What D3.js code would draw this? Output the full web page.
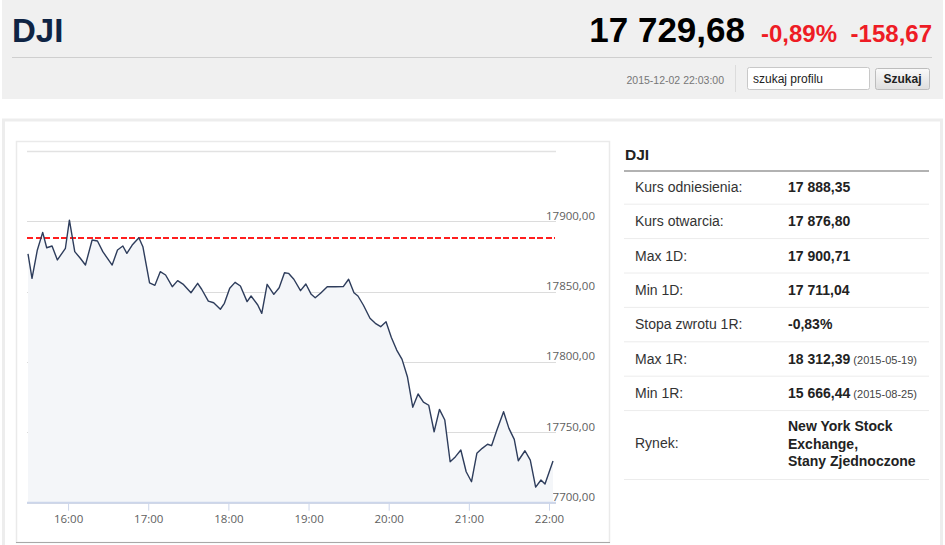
<!DOCTYPE html>
<html>
<head>
<meta charset="utf-8">
<script src="https://cdn.jsdelivr.net/npm/d3@7"></script>
<style>
  html, body { margin: 0; padding: 0; background: #fff; }
  svg { display: block; font-family: Arial, "Liberation Sans", sans-serif; }
</style>
</head>
<body>
<div id="page"></div>
<script>
// quote header
const symbol = 'DJI';
const lastPrice = '17 729,68';
const changePct = '-0,89%';
const changeAbs = '-158,67';
const quoteTime = '2015-12-02 22:03:00';

// intraday series (time, index value)
const times = [
    '15:30', '15:33', '15:37', '15:41', '15:44', '15:48', '15:52', '15:58', '16:01', '16:05',
    '16:09', '16:13', '16:18', '16:22', '16:26', '16:33', '16:37', '16:41', '16:44', '16:48',
    '16:53', '16:56', '17:01', '17:05', '17:09', '17:13', '17:18', '17:22', '17:26', '17:32',
    '17:37', '17:40', '17:45', '17:49', '17:54', '17:57', '18:01', '18:05', '18:09', '18:14',
    '18:17', '18:22', '18:25', '18:29', '18:34', '18:38', '18:42', '18:45', '18:49', '18:54',
    '18:58', '19:02', '19:05', '19:09', '19:14', '19:20', '19:26', '19:30', '19:34', '19:37',
    '19:41', '19:46', '19:50', '19:54', '19:58', '20:02', '20:06', '20:10', '20:14', '20:18',
    '20:22', '20:26', '20:30', '20:34', '20:38', '20:42', '20:46', '20:50', '20:54', '20:58',
    '21:02', '21:06', '21:10', '21:14', '21:17', '21:21', '21:26', '21:30', '21:34', '21:37',
    '21:42', '21:46', '21:50', '21:54', '21:57', '22:03'
];
const values = [
    17876.80, 17859.4, 17879.5, 17892.0, 17881.1, 17882.3, 17872.4, 17880.7, 17900.71, 17878.3,
    17873.8, 17868.8, 17886.6, 17885.9, 17878.3, 17868.8, 17879.5, 17882.3, 17877.1, 17883.0,
    17888.2, 17881.8, 17856.2, 17854.4, 17864.1, 17861.7, 17853.4, 17857.7, 17855.3, 17849.1,
    17855.8, 17851.6, 17843.2, 17842.0, 17837.4, 17841.6, 17852.3, 17856.5, 17853.9, 17842.8,
    17846.8, 17840.4, 17834.5, 17855.1, 17848.0, 17852.7, 17863.3, 17862.9, 17858.7, 17850.6,
    17855.3, 17848.0, 17845.6, 17848.7, 17853.4, 17853.4, 17853.5, 17858.7, 17849.1, 17846.8,
    17840.4, 17831.0, 17827.4, 17825.0, 17828.5, 17817.3, 17808.4, 17801.8, 17789.5, 17767.8,
    17777.2, 17771.5, 17769.2, 17750.4, 17766.3, 17758.7, 17729.1, 17732.7, 17737.4, 17722.0,
    17714.9, 17735.1, 17738.6, 17741.5, 17740.5, 17751.6, 17764.6, 17752.8, 17745.0, 17729.8,
    17736.9, 17730.3, 17711.04, 17716.1, 17713.3, 17729.68
];
const referencePrice = 17888.35;

// axes
const yGridValues = [17700, 17750, 17800, 17850, 17900, 17950];
const yLabelValues = [17700, 17750, 17800, 17850, 17900];
const xTickLabels = ['16:00', '17:00', '18:00', '19:00', '20:00', '21:00', '22:00'];

// side table
const statLabels = ['Kurs odniesienia:', 'Kurs otwarcia:', 'Max 1D:', 'Min 1D:',
    'Stopa zwrotu 1R:', 'Max 1R:', 'Min 1R:'];
const statValues = ['17 888,35', '17 876,80', '17 900,71', '17 711,04', '-0,83%',
    '18 312,39', '15 666,44'];
const statNotes = ['', '', '', '', '', '(2015-05-19)', '(2015-08-25)'];
const marketLabel = 'Rynek:';
const marketLines = ['New York Stock', 'Exchange,', 'Stany Zjednoczone'];

const width = 945, height = 545;
const svg = d3.select('#page').append('svg')
    .attr('width', width)
    .attr('height', height);

// ---- header ----
svg.append('rect').attr('x', 2).attr('y', 0).attr('width', 941).attr('height', 99)
    .attr('fill', '#f0f0f0');
svg.append('text').attr('x', 12).attr('y', 42)
    .style('font-size', '33px').style('font-weight', 'bold').attr('fill', '#0f2444')
    .text(symbol);
svg.append('text').attr('x', 745).attr('y', 42).attr('text-anchor', 'end')
    .style('font-size', '35px').style('font-weight', 'bold').attr('fill', '#000')
    .text(lastPrice);
svg.append('text').attr('x', 761).attr('y', 42)
    .style('font-size', '24px').style('font-weight', 'bold').attr('fill', '#ee1c25')
    .text(changePct);
svg.append('text').attr('x', 932).attr('y', 42).attr('text-anchor', 'end')
    .style('font-size', '24px').style('font-weight', 'bold').attr('fill', '#ee1c25')
    .text(changeAbs);
svg.append('line').attr('x1', 12).attr('x2', 932).attr('y1', 57.5).attr('y2', 57.5)
    .attr('stroke', '#cfcfcf');
svg.append('text').attr('x', 724).attr('y', 83.5).attr('text-anchor', 'end')
    .style('font-size', '10.5px').attr('fill', '#777')
    .text(quoteTime);
svg.append('line').attr('x1', 735.5).attr('x2', 735.5).attr('y1', 65).attr('y2', 92)
    .attr('stroke', '#dcdcdc');
svg.append('rect').attr('x', 747.5).attr('y', 67.5).attr('width', 122).attr('height', 22)
    .attr('rx', 2).attr('fill', '#fff').attr('stroke', '#c8c8c8');
svg.append('text').attr('x', 753).attr('y', 82.5)
    .style('font-size', '12px').attr('fill', '#222')
    .text('szukaj profilu');
const grad = svg.append('defs').append('linearGradient').attr('id', 'btn')
    .attr('x1', 0).attr('x2', 0).attr('y1', 0).attr('y2', 1);
grad.append('stop').attr('offset', '0%').attr('stop-color', '#fafafa');
grad.append('stop').attr('offset', '100%').attr('stop-color', '#dedede');
svg.append('rect').attr('x', 875.5).attr('y', 68.5).attr('width', 54).attr('height', 21)
    .attr('rx', 2).attr('fill', 'url(#btn)').attr('stroke', '#bdbdbd');
svg.append('text').attr('x', 902.5).attr('y', 83).attr('text-anchor', 'middle')
    .style('font-size', '12px').style('font-weight', 'bold').attr('fill', '#222')
    .text('Szukaj');

// ---- panels ----
svg.append('rect').attr('x', 3.5).attr('y', 120).attr('width', 938).attr('height', 440)
    .attr('fill', 'none').attr('stroke', '#ededed').attr('stroke-width', 3);
svg.append('rect').attr('x', 16.5).attr('y', 141.5).attr('width', 593).attr('height', 401)
    .attr('fill', 'none').attr('stroke', '#eaeaea').attr('stroke-width', 1.5);
svg.append('line').attr('x1', 16).attr('x2', 610).attr('y1', 542.5).attr('y2', 542.5)
    .attr('stroke', '#a8a8a8');

// ---- chart ----
const plotLeft = 27, plotRight = 556;
const parseTime = d3.timeParse('%H:%M');
const points = times.map(function (t, i) {
    return {time: parseTime(t), value: values[i]};
});

const xScale = d3.scaleTime()
    .domain([parseTime('15:30'), parseTime('22:00')])
    .range([28, 549]);
const yScale = d3.scaleLinear()
    .domain([17700, 17950])
    .range([502.7, 150.7]);

const chart = svg.append('g');

// horizontal grid
chart.append('g')
    .selectAll('line')
    .data(yGridValues)
    .enter()
    .append('line')
    .attr('x1', plotLeft)
    .attr('x2', plotRight)
    .attr('y1', function (d) { return Math.round(yScale(d)) + 0.5; })
    .attr('y2', function (d) { return Math.round(yScale(d)) + 0.5; })
    .attr('stroke', function (d) { return d === 17950 ? '#e2e2e2' : '#dcdcdc'; })
    .attr('stroke-width', function (d) { return d === 17950 ? 1.6 : 1; });

// y labels, right aligned above each grid line
chart.append('g')
    .selectAll('text')
    .data(yLabelValues)
    .enter()
    .append('text')
    .attr('x', 595)
    .attr('y', function (d) { return yScale(d) - 1.5; })
    .attr('text-anchor', 'end')
    .style('font-family', '"Open Sans", sans-serif')
    .style('font-size', '11.5px')
    .attr('fill', '#606060')
    .text(function (d) { return d3.format('.2f')(d).replace('.', ','); });

// area under the line
const area = d3.area()
    .x(function (d) { return xScale(d.time); })
    .y0(yScale(17700))
    .y1(function (d) { return yScale(d.value); });
chart.append('path')
    .datum(points)
    .attr('d', area)
    .attr('fill', '#f4f6f9');

// x axis
const xAxis = d3.axisBottom(xScale)
    .tickValues(xTickLabels.map(parseTime))
    .tickFormat(d3.timeFormat('%H:%M'))
    .tickSizeInner(8)
    .tickSizeOuter(0)
    .tickPadding(4);
const xAxisG = chart.append('g')
    .attr('transform', 'translate(0,' + yScale(17700) + ')')
    .call(xAxis);
xAxisG.select('.domain').remove();
xAxisG.append('line')
    .attr('x1', plotLeft).attr('x2', plotRight)
    .attr('y1', 0).attr('y2', 0)
    .attr('stroke', '#ccd6eb').attr('stroke-width', 2);
xAxisG.selectAll('.tick line').attr('stroke', '#ccd6eb');
xAxisG.selectAll('.tick text')
    .style('font-family', '"Open Sans", sans-serif')
    .style('font-size', '11.5px')
    .attr('fill', '#606060');

// reference price, snapped to whole pixels so the red stays crisp
const refY = Math.round(yScale(referencePrice));
chart.append('line')
    .attr('x1', plotLeft)
    .attr('x2', 555)
    .attr('y1', refY)
    .attr('y2', refY)
    .attr('stroke', '#ff1f1f')
    .attr('stroke-width', 2)
    .attr('shape-rendering', 'crispEdges')
    .attr('stroke-dasharray', '6,2.5');

// price line
const line = d3.line()
    .x(function (d) { return xScale(d.time); })
    .y(function (d) { return yScale(d.value); });
chart.append('path')
    .datum(points)
    .attr('d', line)
    .attr('fill', 'none')
    .attr('stroke', '#2e3d5c')
    .attr('stroke-width', 1.4)
    .attr('stroke-linejoin', 'round');

// ---- side table ----
const tableLeft = 624, tableRight = 929;
svg.append('text').attr('x', 625).attr('y', 159.5)
    .style('font-size', '15.5px').style('font-weight', 'bold').attr('fill', '#222')
    .text(symbol);
svg.append('line').attr('x1', tableLeft).attr('x2', tableRight).attr('y1', 171).attr('y2', 171)
    .attr('stroke', '#999').attr('stroke-width', 1.5);

const rowHeight = 34.4, firstSep = 203.7;
const rows = svg.append('g')
    .selectAll('g')
    .data(statLabels)
    .enter()
    .append('g')
    .attr('transform', function (d, i) { return 'translate(0,' + (firstSep + i * rowHeight) + ')'; });
rows.append('line')
    .attr('x1', tableLeft).attr('x2', tableRight)
    .attr('y1', 0.5).attr('y2', 0.5)
    .attr('stroke', '#ececec');
rows.append('text')
    .attr('x', 635).attr('y', -12)
    .style('font-size', '14px').attr('fill', '#333')
    .text(function (d) { return d; });
const valueText = rows.append('text')
    .attr('x', 788).attr('y', -12)
    .attr('fill', '#222');
valueText.append('tspan')
    .style('font-size', '14px').style('font-weight', 'bold')
    .text(function (d, i) { return statValues[i]; });
valueText.append('tspan')
    .style('font-size', '11px').attr('fill', '#444')
    .text(function (d, i) { return statNotes[i] ? ' ' + statNotes[i] : ''; });

// market row
svg.append('text').attr('x', 635).attr('y', 447.5)
    .style('font-size', '14px').attr('fill', '#333')
    .text(marketLabel);
svg.append('g')
    .selectAll('text')
    .data(marketLines)
    .enter()
    .append('text')
    .attr('x', 788)
    .attr('y', function (d, i) { return 431 + i * 17.6; })
    .style('font-size', '14px').style('font-weight', 'bold').attr('fill', '#222')
    .text(function (d) { return d; });
svg.append('line').attr('x1', tableLeft).attr('x2', tableRight).attr('y1', 479.5).attr('y2', 479.5)
    .attr('stroke', '#ececec');
</script>
</body>
</html>
